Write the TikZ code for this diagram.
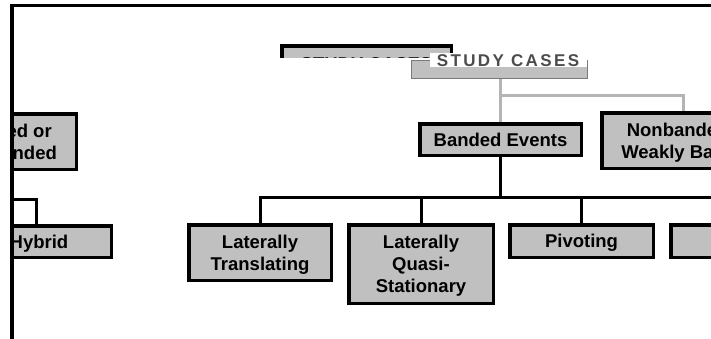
\documentclass[tikz,border=0pt]{standalone}
\usepackage{fontspec}
\setmainfont{Liberation Sans}
\definecolor{boxgray}{HTML}{C0C0C0}
\definecolor{linegray}{HTML}{B4B4B4}
\definecolor{edgegray}{HTML}{7A7A7A}
\begin{document}
\begin{tikzpicture}[x=1pt,y=-1pt,
  box/.style={draw=black, line width=3.5pt, fill=boxgray, align=center, inner sep=0pt,
    text depth=0pt, font=\bfseries\fontsize{18.5}{22}\selectfont},
  conn/.style={line width=3pt, draw=black},
  gconn/.style={line width=3pt, draw=linegray}]
\useasboundingbox (0,0) rectangle (711,338);
\begin{scope}
  \clip (12,0) rectangle (711,338);
  % top box, cut off
  \begin{scope}
    \clip (0,0) rectangle (711,57);
    \node[box, minimum width=169.5pt, minimum height=36pt] (sc) at (366.5,64) {STUDY CASES};
  \end{scope}
  % displaced part of the top box
  \node[fill=boxgray, draw=edgegray, line width=1pt, minimum width=176pt, minimum height=18pt, inner sep=0pt] (sc2) at (499,69) {};
  \fill[white] (430,53) rectangle (587,67);
  \node[inner sep=0pt, text=black!70, font=\bfseries\fontsize{17}{18}\selectfont\addfontfeature{LetterSpace=14}] (sct) at (508,61) {STUDY CASES};
  % second level
  \node[box, minimum width=140.5pt, minimum height=55.5pt] (bn) at (6,141.5) {Banded or\\Nonbanded};
  \node[box, minimum width=161.5pt, minimum height=31.5pt] (be) at (500.5,139.5) {Banded Events};
  \node[box, minimum width=175.5pt, minimum height=55.5pt] (nb) at (689.5,140.5) {Nonbanded or\\Weakly Banded};
  % third level
  \node[box, minimum width=144.5pt, minimum height=31.5pt] (hy) at (39,241.5) {Hybrid};
  \node[box, minimum width=142.5pt, minimum height=55.5pt] (lt) at (260,252.5) {Laterally\\Translating};
  \node[box, minimum width=144.5pt, minimum height=78.5pt] (lq) at (421,264) {Laterally\\Quasi-\\Stationary};
  \node[box, minimum width=143.5pt, minimum height=32.5pt] (pv) at (581.5,241) {Pivoting};
  \node[box, minimum width=144.5pt, minimum height=32.5pt] (fx) at (743,241) {};
  % grey connectors from the top box
  \coordinate (j1) at (500.5,95);
  \draw[gconn] (sc2.south -| be.north) -- (be.north);
  \draw[gconn] (j1) -| ([xshift=-6.5pt]nb.north);
  % black connectors
  \coordinate (bus) at (500.5,197.5);
  \coordinate (hl) at (0,199);
  \draw[conn] (be.south) -- (bus);
  \draw[conn] (bus) -| (lt.north);
  \draw[conn] (bus) -| (lq.north);
  \draw[conn] (bus) -| (pv.north);
  \draw[conn] (bus) -| (fx.north);
  \draw[conn] (hl) -| ([xshift=-3pt]hy.north);
\end{scope}
% frame
\draw[line width=3.5pt, line cap=rect] (12,338) -- (12,5.7) -- (711,5.7);
\end{tikzpicture}
\end{document}
